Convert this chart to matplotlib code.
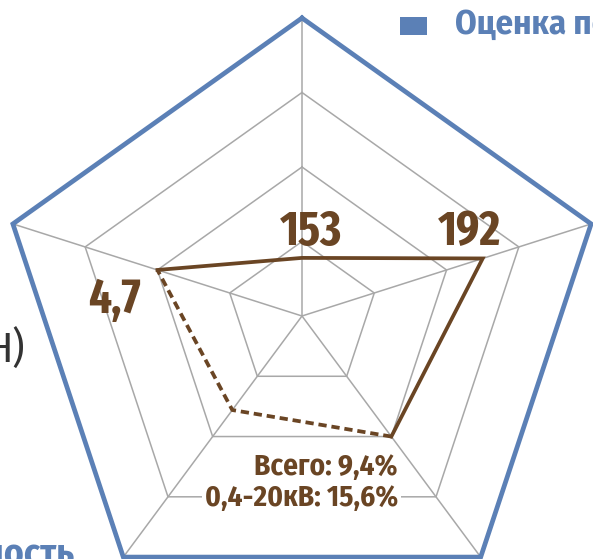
import matplotlib
matplotlib.use("Agg")
import matplotlib.pyplot as plt
import numpy as np
from matplotlib.patches import Rectangle

# axis order: top, right, bottom-right, bottom-left, left
axis_angles_deg = [90, 18, -54, -126, 162]
scores = [0.78, 2.5, 2.0, 1.56, 2.0]          # position on the 0..4 scale
solid_path = [4, 0, 1, 2]
dashed_path = [2, 3, 4]
grid_rings = [1, 2, 3]
outer_ring = 4

value_labels = ["153", "192", "4,7"]
value_label_pos = [(0.12, 0.95), (2.21, 0.95), (-2.47, 0.04)]
loss_lines = ["Всего: 9,4%", "0,4-20кВ: 15,6%"]
legend_label = "Оценка потерь"

BROWN = "#6a4524"
BLUE = "#5b80b6"
GRID = "#a8a8a8"
BIG_FONT = ["Fira Sans Extra Condensed", "DejaVu Sans"]
FONT = ["Fira Sans Condensed", "DejaVu Sans"]

angles = np.deg2rad(axis_angles_deg)


def ring_xy(radius):
    xs = radius * np.cos(angles)
    ys = radius * np.sin(angles)
    return np.append(xs, xs[0]), np.append(ys, ys[0])


fig = plt.figure(figsize=(5.93, 5.59), dpi=100)
ax = fig.add_axes([0, 0, 1, 1])
ax.set_xlim(-302 / 76, (593 - 302) / 76)
ax.set_ylim(-(559 - 316) / 74.5, 316 / 74.5)
ax.axis("off")

for angle in angles:
    ax.plot([0, outer_ring * np.cos(angle)], [0, outer_ring * np.sin(angle)],
            color=GRID, lw=1.1, zorder=1)
for ring in grid_rings:
    xs, ys = ring_xy(ring)
    ax.plot(xs, ys, color=GRID, lw=1.1, zorder=1)
xs, ys = ring_xy(outer_ring)
ax.plot(xs, ys, color=BLUE, lw=3.4, zorder=2, solid_joinstyle="miter")

score_x = np.array(scores) * np.cos(angles)
score_y = np.array(scores) * np.sin(angles)
ax.plot(score_x[solid_path], score_y[solid_path], color=BROWN, lw=2.7,
        zorder=3, solid_joinstyle="miter")
ax.plot(score_x[dashed_path], score_y[dashed_path], color=BROWN, lw=2.7,
        zorder=3, linestyle=(0, (2.2, 1.3)))

for label, (lx, ly) in zip(value_labels, value_label_pos):
    ax.text(lx, ly, label, ha="center", va="baseline", fontsize=35,
            fontweight="bold", color=BROWN, family=BIG_FONT, zorder=4)

ax.text(1.26, -2.134, loss_lines[0], ha="right", va="baseline", fontsize=21,
        fontweight="bold", color=BROWN, family=FONT, zorder=4)
ax.text(1.26, -2.55, loss_lines[1], ha="right", va="baseline", fontsize=21,
        fontweight="bold", color=BROWN, family=FONT, zorder=4,
        bbox=dict(facecolor="white", edgecolor="none", pad=2))

# legend entry, cut off by the right edge
fig.patches.append(Rectangle((400 / 593, 1 - 35 / 559), 27 / 593, 18 / 559,
                             transform=fig.transFigure, facecolor=BLUE,
                             edgecolor="none"))
fig.text(455 / 593, 1 - 34 / 559, legend_label, ha="left", va="baseline",
         fontsize=25, fontweight="bold", color=BLUE, family=FONT)

# axis titles cut off by the left edge
fig.text(25 / 593, 1 - 362 / 559, "Н)", ha="right", va="baseline",
         fontsize=30, color="#333333", family=FONT)
fig.text(74 / 593, 1 - 564 / 559, "Надёжность", ha="right", va="baseline",
         fontsize=27, fontweight="bold", color=BLUE, family=FONT)

fig.savefig("out.png", dpi=100)
